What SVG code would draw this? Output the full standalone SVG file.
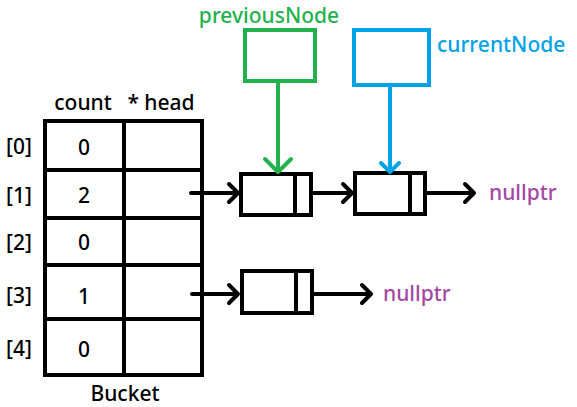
<svg xmlns="http://www.w3.org/2000/svg" width="577" height="407" viewBox="0 0 577 407">
<style>
text{font-family:"Noto Sans","DejaVu Sans",sans-serif;font-size:21px;font-weight:500;fill:#000;text-anchor:middle}
.b{fill:none;stroke:#000;stroke-width:4}
.c{fill:none;stroke-width:4;stroke-linecap:round;stroke-linejoin:round}
.k{stroke:#000}.g{stroke:#22B14C}.u{stroke:#00A2E8}
.np{fill:#A349A4;text-anchor:start}
</style>
<rect width="577" height="407" fill="#fff"/>
<g id="bucket">
<rect class="b" x="45" y="121" width="157" height="254"/>
<line class="b" x1="124" y1="121" x2="124" y2="375"/>
<line class="b" x1="45" y1="170" x2="202" y2="170"/>
<line class="b" x1="45" y1="218" x2="202" y2="218"/>
<line class="b" x1="45" y1="265" x2="202" y2="265"/>
<line class="b" x1="45" y1="319" x2="202" y2="319"/>
<text x="83" y="110">count</text>
<text x="161" y="110">* head</text>
<text x="19" y="154">[0]</text>
<text x="19" y="203">[1]</text>
<text x="19" y="250">[2]</text>
<text x="19" y="303">[3]</text>
<text x="19" y="356">[4]</text>
<text x="84" y="155">0</text>
<text x="84" y="203">2</text>
<text x="84" y="250">0</text>
<text x="84" y="304">1</text>
<text x="84" y="357">0</text>
<text x="125" y="401">Bucket</text>
</g>
<g id="node1">
<rect class="b" x="241" y="174" width="70" height="41"/>
<line class="b" x1="295" y1="174" x2="295" y2="215"/>
</g>
<g id="node2">
<rect class="b" x="355" y="173" width="70" height="41"/>
<line class="b" x1="410" y1="173" x2="410" y2="214"/>
</g>
<g id="node3">
<rect class="b" x="242" y="271" width="70" height="42"/>
<line class="b" x1="296" y1="271" x2="296" y2="313"/>
</g>
<g id="previousNode">
<rect class="b g" x="245" y="30" width="70" height="51"/>
<text x="269" y="23" style="fill:#22B14C">previousNode</text>
</g>
<g id="currentNode">
<rect class="b u" x="354" y="30" width="75" height="55"/>
<text x="437" y="52" style="fill:#00A2E8;text-anchor:start">currentNode</text>
</g>
<g id="nullptr1"><text class="np" x="489" y="200">nullptr</text></g>
<g id="nullptr2"><text class="np" x="383" y="301">nullptr</text></g>
<g id="connectors">
<path class="c k" d="M191 193H238M229 184l9 9-9 9"/>
<path class="c k" d="M313 193H352M343 184l9 9-9 9"/>
<path class="c k" d="M427 193H474M465 184l9 9-9 9"/>
<path class="c k" d="M192 294H238M229 285l9 9-9 9"/>
<path class="c k" d="M314 294H371M362 285l9 9-9 9"/>
<path class="c g" d="M278 83V172M265 159l13 13 13-13"/>
<path class="c u" d="M390 87V172M381 163l9 9 9-9"/>
</g>
</svg>
